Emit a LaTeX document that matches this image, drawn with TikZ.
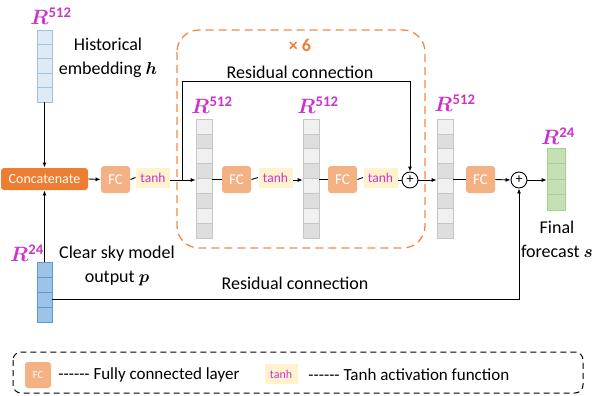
\documentclass[tikz,border=0pt]{standalone}
\usepackage{amsmath,bm}
\usepackage{fontspec}
\setmainfont{Carlito}
\usetikzlibrary{arrows.meta,positioning}
\definecolor{concat}{HTML}{ED7D31}
\definecolor{fcfill}{HTML}{F4B183}
\definecolor{tanhfill}{HTML}{FFF2CC}
\definecolor{mag}{HTML}{CC33CC}
\definecolor{lblue}{HTML}{DEEBF7}
\definecolor{mblue}{HTML}{9DC3E6}
\definecolor{dblue}{HTML}{5B9BD5}
\definecolor{lgreen}{HTML}{C5E0B4}
\definecolor{dgreen}{HTML}{A9D18E}
\newcommand{\Rdim}[1]{$\bm{R}^{\mathbf{#1}}$}
\newcommand{\dashes}{-{}-{}-{}-{}-{}-}
\begin{document}
\begin{tikzpicture}[x=1pt, y=-1pt, line width=0.9pt,
  arr/.style={-{Latex[length=5pt,width=4pt]}},
  fc box/.style={rounded corners=3pt, fill=fcfill, text=white, minimum width=29, minimum height=27, inner sep=0pt, font=\fontsize{15}{15}\selectfont},
  tanh box/.style={fill=tanhfill, text=mag, minimum width=34, minimum height=20, inner sep=0pt, font=\fontsize{13.5}{13.5}\selectfont},
  dim label/.style={text=mag, font=\fontsize{21}{21}\selectfont, inner sep=0pt},
  txt/.style={font=\fontsize{18}{24}\selectfont, align=center, inner sep=0pt},
  cell h/.style={draw=mblue, fill=lblue, line width=0.6pt, minimum width=15, minimum height=14.4, inner sep=0pt},
  cell p/.style={draw=dblue, fill=mblue, line width=0.6pt, minimum width=15, minimum height=15, inner sep=0pt},
  cell s/.style={draw=dgreen, fill=lgreen, line width=0.6pt, minimum width=18, minimum height=15.5, inner sep=0pt},
  cell g/.style={draw=gray!45, line width=0.6pt, minimum width=16, minimum height=14.875, inner sep=0pt},
  plus/.style={circle, draw, fill=white, minimum size=16, inner sep=0pt, font=\fontsize{14}{14}\selectfont}]
\useasboundingbox (0,0) rectangle (595,396);
% repeated block
\draw[concat!90, line width=1.3pt, dash pattern=on 8pt off 5pt, rounded corners=22pt] (177,30) rectangle (425,248);
\node[text=concat, font=\fontsize{18}{18}\selectfont\bfseries, inner sep=0pt] (rep) at (300,45) {× 6};
% vectors
\foreach \i in {0,...,4} \node[cell h] (h\i) at (44.5,37.2+14.4*\i) {};
\foreach \i in {0,...,3} \node[cell p] (p\i) at (44.5,269.5+15*\i) {};
\foreach \i in {0,...,3} \node[cell s] (s\i) at (556,155.75+15.5*\i) {};
\foreach \v/\x in {a/204, b/311, c/445}
  \foreach \i in {0,...,7} {
    \pgfmathtruncatemacro{\shade}{mod(\i,2)==0 ? 6 : 13}
    \node[cell g, fill=black!\shade] (\v\i) at (\x,126.44+14.875*\i) {};
  }
\node[dim label] (rh) at (51,16) {\Rdim{512}};
\node[dim label] (rp) at (27,253) {\Rdim{24}};
\node[dim label] (ra) at (212,105) {\Rdim{512}};
\node[dim label] (rb) at (318,105) {\Rdim{512}};
\node[dim label] (rc) at (455,103) {\Rdim{512}};
\node[dim label] (rs) at (558,136) {\Rdim{24}};
\node[txt] (th) at (108,58) {Historical\\embedding $\bm{h}$};
\node[txt] (tp) at (117,266) {Clear sky model\\output $\bm{p}$};
\node[txt] (ts) at (557,239) {Final\\forecast $\bm{s}$};
% blocks
\node[rounded corners=3pt, fill=concat, text=white, minimum width=87, minimum height=22, inner sep=0pt, font=\fontsize{14}{14}\selectfont] (cat) at (44.5,179) {Concatenate};
\node[fc box] (fc1) at (115.5,179.5) {FC};
\node[tanh box] (t1) at (153,177.5) {tanh};
\node[fc box] (fc2) at (236.5,179.5) {FC};
\node[tanh box] (t2) at (275.5,177.5) {tanh};
\node[fc box] (fc3) at (342.5,179.5) {FC};
\node[tanh box] (t3) at (380.5,177.5) {tanh};
\node[plus] (pl1) at (410,180) {+};
\node[fc box] (fc4) at (480.5,179.5) {FC};
\node[plus] (pl2) at (519,180) {+};
\coordinate (br) at (182,180);
\coordinate (top) at (410,81);
% connectors
\draw[arr] (h4.south) -- (cat.north);
\draw[arr] (p0.north) -- (cat.south);
\draw[arr] (cat.east) -- (fc1.west);
\draw (fc1.east) -- (t1.west);
\draw[arr] (t1.east |- br) -- (br -| a0.west);
\draw (a0.east |- fc2) -- (fc2.west);
\draw (fc2.east) -- (t2.west);
\draw[arr] (t2.east |- br) -- (br -| b0.west);
\draw (b0.east |- fc3) -- (fc3.west);
\draw (fc3.east) -- (t3.west);
\draw (t3.east |- pl1) -- (pl1.west);
\draw[arr] (br) |- (top) -- (pl1.north);
\draw[arr] (pl1.east) -- (pl1 -| c0.west);
\draw (c0.east |- fc4) -- (fc4.west);
\draw[arr] (fc4.east) -- (pl2.west);
\draw[arr] (pl2.east) -- (pl2 -| s0.west);
\draw[arr] (p2.east) -| (pl2.south);
\node[txt] (res1) at (300,72) {Residual connection};
\node[txt] (res2) at (295,283) {Residual connection};
% legend
\draw[line width=1pt, dash pattern=on 6pt off 4pt, rounded corners=8pt] (13,352) rectangle (583,393);
\node[fc box, minimum width=26, minimum height=26, font=\fontsize{10.5}{10.5}\selectfont] (lfc) at (38,375) {FC};
\node[txt, anchor=west, font=\fontsize{17}{17}\selectfont] (lfct) at (58,375) {\dashes{} Fully connected layer};
\node[tanh box, minimum width=33, font=\fontsize{12}{12}\selectfont] (lt) at (281,374) {tanh};
\node[txt, anchor=west, font=\fontsize{17}{17}\selectfont] (ltt) at (308,375) {\dashes{} Tanh activation function};
\end{tikzpicture}
\end{document}
